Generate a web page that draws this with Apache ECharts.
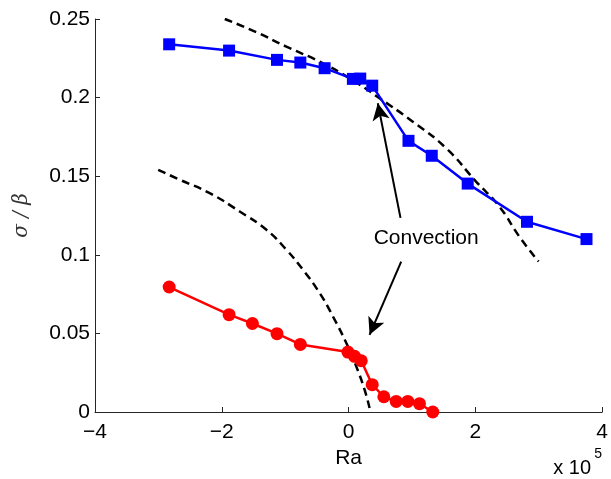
<!DOCTYPE html>
<html><head><meta charset="utf-8">
<script src="https://cdn.jsdelivr.net/npm/echarts@6/dist/echarts.min.js"></script>
<style>html,body{margin:0;padding:0;background:#fff}#c{width:611px;height:479px}</style>
</head><body><div id="c"></div>
<script>
// Ra values (x 10^5) and sigma/beta
const blueX = [-2.83, -1.885, -1.129, -0.761, -0.378, 0.068, 0.184, 0.373, 0.945, 1.312, 1.879, 2.814, 3.753];
const blueY = [0.2339, 0.2299, 0.224, 0.2223, 0.2187, 0.2119, 0.2121, 0.2076, 0.1725, 0.163, 0.1453, 0.121, 0.110];
const redX = [-2.83, -1.885, -1.517, -1.129, -0.761, -0.01, 0.094, 0.2, 0.373, 0.556, 0.751, 0.934, 1.118, 1.328];
const redY = [0.0795, 0.0619, 0.0563, 0.0498, 0.043, 0.0381, 0.0354, 0.0326, 0.0174, 0.0097, 0.0067, 0.0067, 0.0053, 0.0];
const upperCurveX = [-1.953, -1.454, -0.981, -0.457, 0.016, 0.488, 1.013, 1.539, 2.011, 2.378, 2.693, 2.997];
const upperCurveY = [0.25, 0.2416, 0.2324, 0.2229, 0.2123, 0.1996, 0.1847, 0.1678, 0.1466, 0.1307, 0.1116, 0.0957];
const lowerCurveX = [-3.003, -2.66, -2.19, -1.717, -1.296, -0.981, -0.72, -0.457, -0.247, -0.036, 0.121, 0.252, 0.331];
const lowerCurveY = [0.154, 0.1477, 0.1392, 0.1275, 0.1159, 0.1032, 0.0905, 0.0757, 0.0608, 0.0439, 0.029, 0.0142, 0.0025];
const xTicks = [-4, -2, 0, 2, 4];
const yTicks = [0, 0.05, 0.1, 0.15, 0.2, 0.25];
const annotText = 'Convection';
const annotPos = [1.224, 0.1106];
const arrowUp = [[0.819, 0.1235], [0.461, 0.1964]];
const arrowDown = [[0.830, 0.0957], [0.331, 0.0491]];

const zip = (a, b) => a.map((v, i) => [v, b[i]]);
const fmt = v => (v < 0 ? '\u2212' + Math.abs(v) : String(v));
const FONT = 'Liberation Sans, Arial, Helvetica, sans-serif';

const chart = echarts.init(document.getElementById('c'));
chart.setOption({
  animation: false,
  grid: { left: 95, right: 8, top: 19, bottom: 67, containLabel: false },
  xAxis: {
    type: 'value', min: xTicks[0], max: xTicks[xTicks.length - 1], interval: 2,
    name: 'Ra', nameLocation: 'middle', nameGap: 36,
    nameTextStyle: { fontFamily: FONT, fontSize: 21, color: '#000' },
    axisLine: { show: true, onZero: false, lineStyle: { color: '#262626', width: 1 } },
    axisTick: { show: true, inside: true, length: 5, lineStyle: { color: '#262626' } },
    axisLabel: { fontFamily: FONT, fontSize: 21, color: '#000', margin: 10, formatter: fmt },
    splitLine: { show: false }
  },
  yAxis: {
    type: 'value', min: yTicks[0], max: yTicks[yTicks.length - 1], interval: 0.05,
    name: '\u03c3 / \u03b2', nameLocation: 'middle', nameGap: 63,
    nameTextStyle: { fontFamily: 'DejaVu Serif, serif', fontStyle: 'italic', fontSize: 20, color: '#333' },
    axisLine: { show: true, onZero: false, lineStyle: { color: '#262626', width: 1 } },
    axisTick: { show: true, inside: true, length: 5, lineStyle: { color: '#262626' } },
    axisLabel: { fontFamily: FONT, fontSize: 21, color: '#000', margin: 5, formatter: v => String(+v.toFixed(2)) },
    splitLine: { show: false }
  },
  graphic: [
    { type: 'text', right: 20, top: 458, style: { text: 'x 10', fontFamily: FONT, fontSize: 20, fill: '#000' } },
    { type: 'text', right: 9, top: 447, style: { text: '5', fontFamily: FONT, fontSize: 14, fill: '#000' } }
  ],
  series: [
    {
      type: 'line', data: zip(upperCurveX, upperCurveY), smooth: 0.5, symbol: 'none',
      lineStyle: { color: '#000', width: 2.5, type: [8, 5] }, z: 3
    },
    {
      type: 'line', data: zip(lowerCurveX, lowerCurveY), smooth: 0.5, symbol: 'none',
      lineStyle: { color: '#000', width: 2.5, type: [8, 5] }, z: 3,
      markLine: {
        silent: true, symbol: ['none', 'arrow'], symbolSize: [13, 17],
        label: { show: false },
        lineStyle: { color: '#000', width: 2, type: 'solid' },
        data: [
          [{ coord: arrowUp[0] }, { coord: arrowUp[1] }],
          [{ coord: arrowDown[0] }, { coord: arrowDown[1] }]
        ]
      },
      markPoint: {
        silent: true, symbol: 'circle', symbolSize: 0,
        label: { show: true, position: 'inside', formatter: annotText, fontFamily: FONT, fontSize: 21, color: '#000' },
        data: [{ coord: annotPos }]
      }
    },
    {
      type: 'line', data: zip(blueX, blueY), symbol: 'rect', symbolSize: 12,
      lineStyle: { color: '#0000ff', width: 2.5 }, itemStyle: { color: '#0000ff' }, z: 4
    },
    {
      type: 'line', data: zip(redX, redY), symbol: 'circle', symbolSize: 13,
      lineStyle: { color: '#ff0000', width: 2.5 }, itemStyle: { color: '#ff0000' }, z: 4
    }
  ]
});
</script></body></html>
